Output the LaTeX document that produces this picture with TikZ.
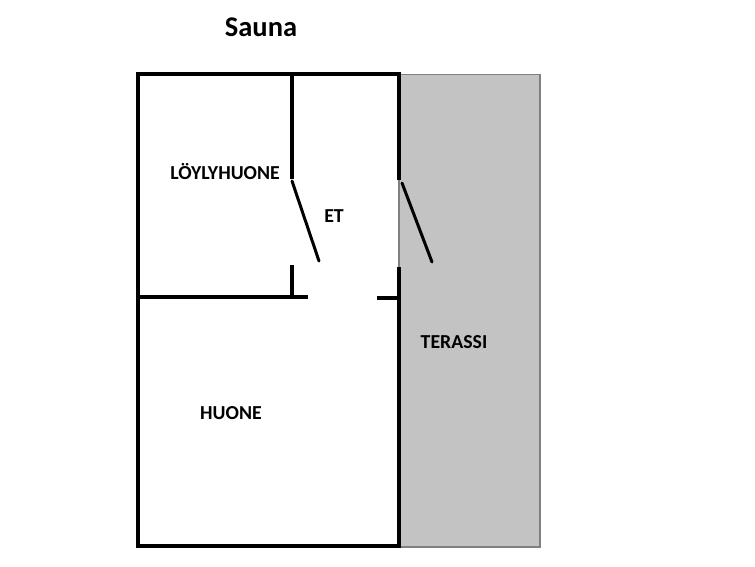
\documentclass[tikz,border=0pt]{standalone}
\usepackage{fontspec}
\setmainfont{Carlito}
\begin{document}
\begin{tikzpicture}[x=1pt,y=-1pt,
    wall/.style={line width=3.5pt,line join=miter},
    door/.style={line width=3pt,line cap=round},
    roomlabel/.style={font=\bfseries\fontsize{19.8}{22}\selectfont,inner sep=0pt}]
                \useasboundingbox (0,0) rectangle (755,566);
                % terrace
                \definecolor{terracegray}{RGB}{195,195,195}
                \definecolor{terraceedge}{RGB}{128,128,128}
                \draw[fill=terracegray,draw=terraceedge,line width=1.2pt] (399,74.5) rectangle (540,547);
                % outer walls
                \draw[wall] (399,180)--(399,74)--(138,74)--(138,546)--(399,546)--(399,267);
                % inner walls
                \draw[wall] (292,74)--(292,179);
                \draw[wall] (292,265)--(292,297);
                \draw[wall] (138,297)--(308,297);
                \draw[wall] (377,298)--(399,298);
                % doors
                \draw[door] (292,181)--(319,261);
                \draw[door] (402,183)--(432,262);
                % labels
                \node[font=\bfseries\fontsize{28.5}{31}\selectfont] (title) at (261,27) {Sauna};
                \node[roomlabel] (loyly) at (225,172) {LÖYLYHUONE};
                \node[roomlabel] (et) at (334,216) {ET};
                \node[roomlabel] (huone) at (231,413) {HUONE};
                \node[roomlabel] (terassi) at (454,342) {TERASSI};
\end{tikzpicture}
\end{document}
